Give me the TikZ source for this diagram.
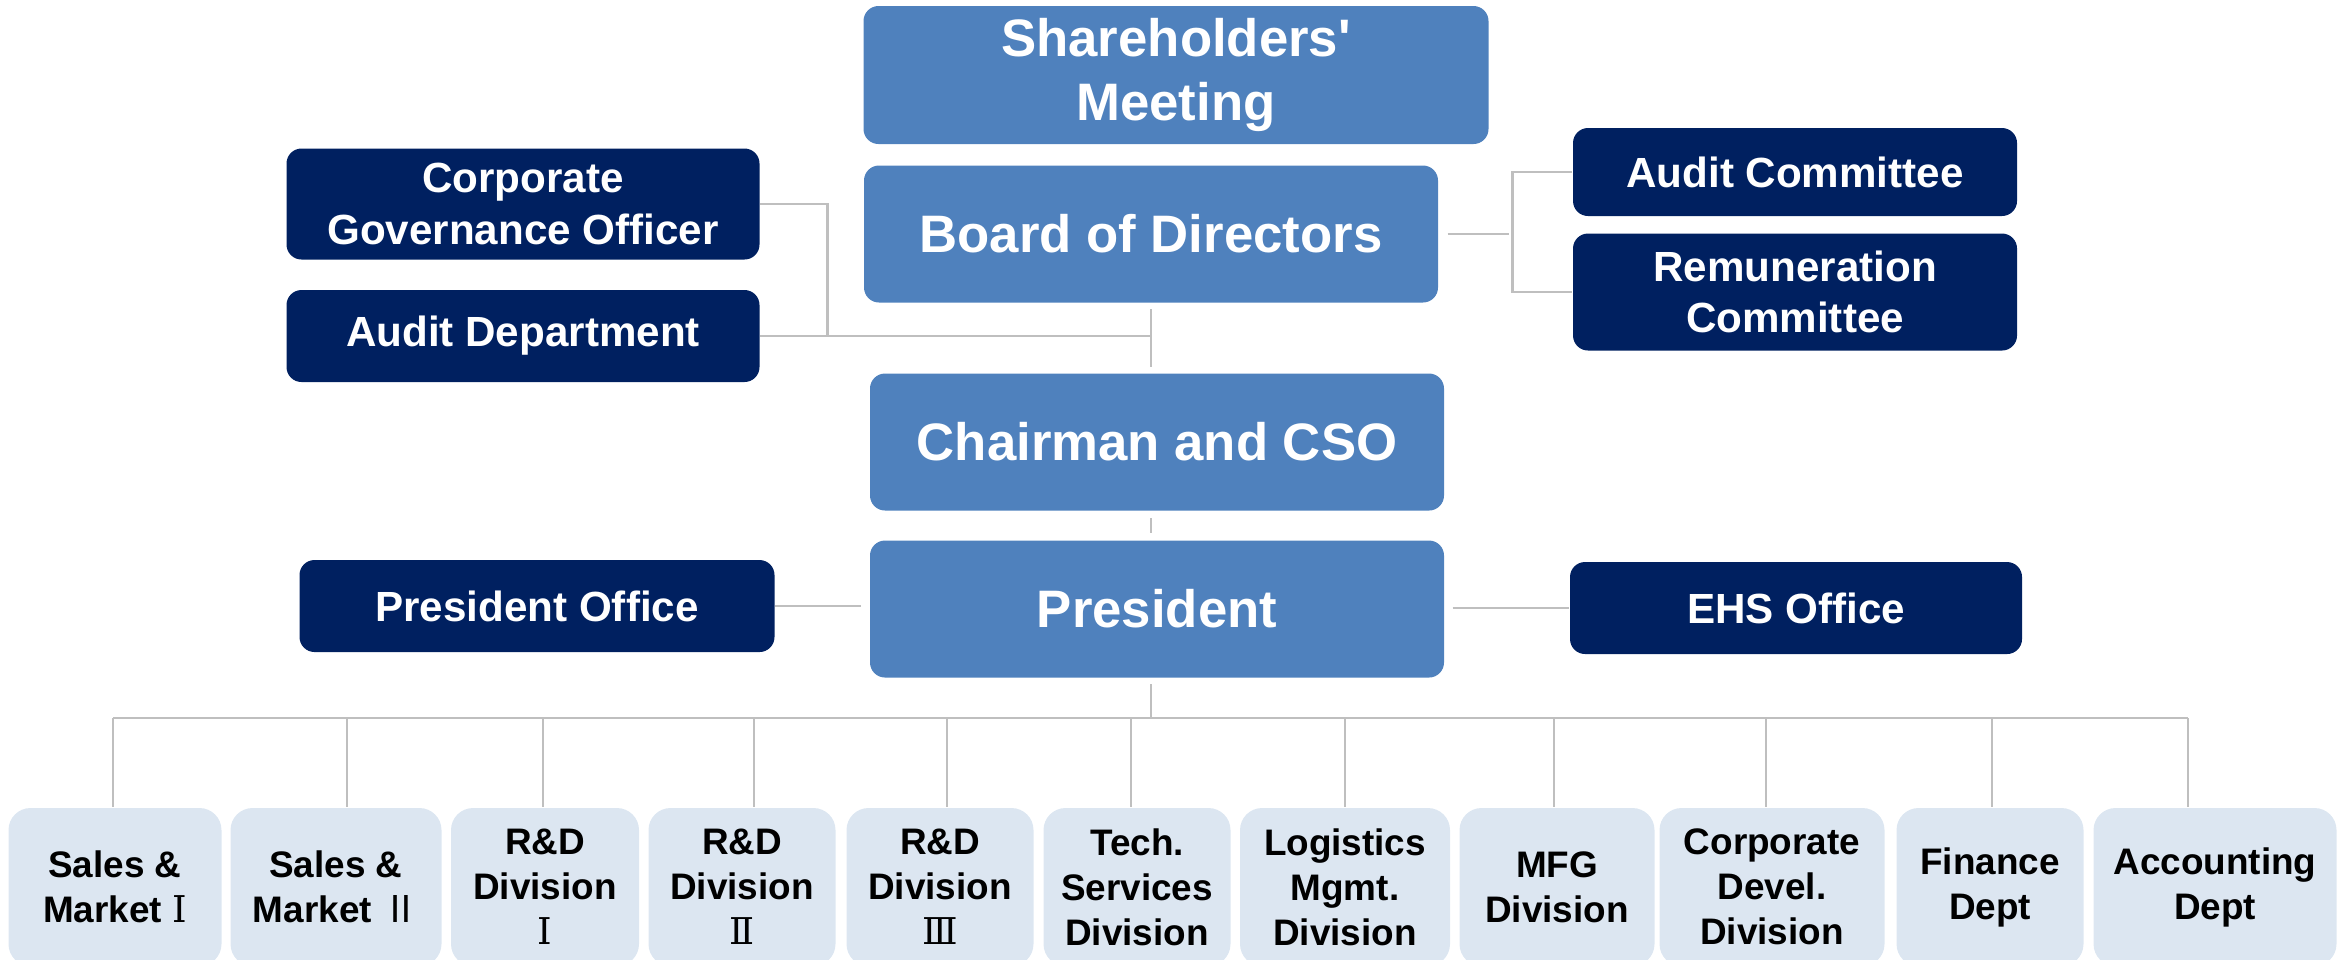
\documentclass[tikz,border=0pt]{standalone}
\usepackage{fontspec}
\setmainfont{Liberation Sans}
\newfontfamily\rnfont{Noto Sans CJK SC}
\newfontfamily\rnseriffont{DejaVu Serif}
\newcommand{\rn}[1]{{\rnfont\mdseries #1}}
\newcommand{\rns}[1]{{\rnseriffont\mdseries #1}}
\definecolor{topblue}{HTML}{4F81BD}
\definecolor{navy}{HTML}{002060}
\definecolor{paleblue}{HTML}{DCE6F1}
\definecolor{linegray}{HTML}{BFBFBF}

\begin{document}
\begin{tikzpicture}[x=0.1mm,y=-0.1mm,
		mainbox/.style={fill=topblue,rounded corners=1.5mm,text=white,align=center,inner sep=0pt,
			font=\bfseries\fontsize{15}{18.3}\selectfont,minimum width=57.4mm,minimum height=13.7mm},
		sidebox/.style={fill=navy,rounded corners=1.5mm,text=white,align=center,inner sep=0pt,
			font=\bfseries\fontsize{12}{14.6}\selectfont},
		deptbox/.style={fill=paleblue,rounded corners=2.2mm,align=center,inner sep=0pt,
			font=\bfseries\fontsize{10.5}{12.8}\selectfont,minimum height=15.8mm},
		conn/.style={draw=linegray,line width=0.8pt}]
		\useasboundingbox (0,0) rectangle (2351,959);
		
		\node[mainbox,minimum width=62.5mm,minimum height=13.8mm] (meeting) at (1176,75) {Shareholders\textquotesingle\\Meeting};
		\node[mainbox] (board) at (1151,234) {Board of Directors};
		\node[mainbox] (chair) at (1157,442) {Chairman and CSO};
		\node[mainbox] (pres) at (1157,609) {President};
		
		\node[sidebox,minimum width=47.3mm,minimum height=11.1mm] (cgo) at (523,204) {Corporate\\Governance Officer};
		\node[sidebox,minimum width=47.3mm,minimum height=9.2mm] (auditdept) at (523,336) {Audit Department};
		\node[sidebox,minimum width=44.4mm,minimum height=8.8mm] (auditcom) at (1795,172) {Audit Committee};
		\node[sidebox,minimum width=44.4mm,minimum height=11.7mm] (remcom) at (1795,292) {Remuneration\\Committee};
		\node[sidebox,minimum width=47.5mm,minimum height=9.2mm] (presoffice) at (537,606) {President Office};
		\node[sidebox,minimum width=45.2mm,minimum height=9.2mm] (ehs) at (1796,608) {EHS Office};
		
		\begin{scope}
			\clip (0,0) rectangle (2351,959);
			\foreach \cx/\w/\dx/\txt [count=\i] in {
				115/21.3/113/{Sales \&\\Market \rns{Ⅰ}},
				336/21.1/347/{Sales \&\\Market \rn{Ⅱ}},
				545/18.8/543/{R\&D\\Division\\\rns{Ⅰ}},
				742/18.7/754/{R\&D\\Division\\\rns{Ⅱ}},
				940/18.7/947/{R\&D\\Division\\\rns{Ⅲ}},
				1137/18.7/1131/{Tech.\\Services\\Division},
				1345/21.0/1345/{Logistics\\Mgmt.\\Division},
				1557/19.5/1554/{MFG\\Division},
				1772/22.5/1766/{Corporate\\Devel.\\Division},
				1990/18.7/1992/{Finance\\Dept},
				2215/24.3/2188/{Accounting\\Dept}}
			{
				\node[deptbox,minimum width=\w mm] (dept\i) at (\cx,887) {\txt};
				\coordinate (drop\i) at (\dx,718);
			}
		\end{scope}
		
		\draw[conn,shorten <=0.6mm,shorten >=0.6mm] (board.south) -- (board.south |- chair.north);
		\draw[conn] (auditdept.east) -- (auditdept.east -| board.south);
		\draw[conn] (cgo.east) -- ++(67,0) |- (auditdept.east);
		\draw[conn,shorten <=0.9mm] (board.east) -- ++(70,0);
		\draw[conn] (auditcom.west) -- ++(-60,0) |- (remcom.west);
		\draw[conn,shorten <=0.7mm,shorten >=0.7mm] (chair.south -| board.south) -- (pres.north -| board.south);
		\draw[conn,shorten >=0.8mm] (presoffice.east) -- (presoffice.east -| pres.west);
		\draw[conn,shorten <=0.8mm] (pres.east |- ehs.west) -- (ehs.west);
		\draw[conn,shorten <=0.6mm] (pres.south -| board.south) -- (board.south |- drop1);
		\draw[conn] (drop1) -- (drop11);
		\foreach \i in {1,...,11}
			\draw[conn] (drop\i) -- (drop\i |- dept\i.north);
\end{tikzpicture}
\end{document}
